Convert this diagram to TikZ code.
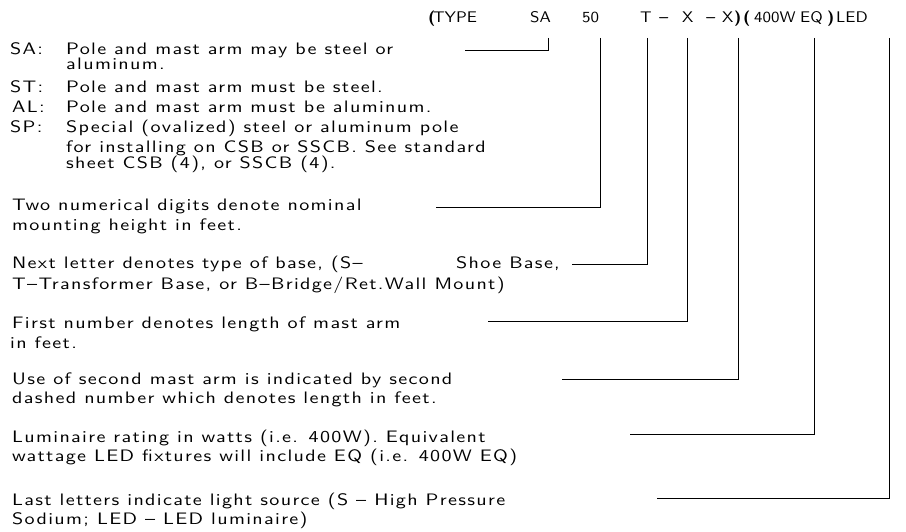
\documentclass[tikz,border=0pt]{standalone}
\usepackage{fontspec}
\usepackage{tikz}
\usetikzlibrary{positioning}
\newfontfamily\cadfont{lmsans10-regular.otf}[FakeStretch=1.21,LetterSpace=8]
\newfontfamily\codefont{lmsans10-regular.otf}[BoldFont=lmsans10-bold.otf,FakeStretch=1.1]

\tikzset{
	desc/.style={anchor=base west, inner sep=0pt, font=\cadfont\fontsize{16.6}{19}\selectfont},
	code/.style={anchor=base west, inner sep=0pt, font=\codefont\fontsize{15.4}{18}\selectfont},
	leader/.style={line width=0.8pt}
}

\begin{document}
\begin{tikzpicture}[x=1pt,y=-1pt]
		\useasboundingbox (0,0) rectangle (906,532);
		% designation
		\node[code] (lpa) at (428,23) {\bfseries(};
		\node[code] (type) at (433,23) {TYPE};
		\node[code] (csa) at (530,23) {SA};
		\node[code] (cht) at (582,23) {50};
		\node[code] (cbase) at (640,23) {T};
		\node[code] (dsha) at (659,23) {\bfseries\textendash};
		\node[code] (carm) at (682,23) {X};
		\node[code] (dshb) at (706,23) {\bfseries\textendash};
		\node[code] (carmb) at (722,23) {X};
		\node[code] (rpa) at (734,23) {\bfseries)};
		\node[code] (lpb) at (743,23) {\bfseries(};
		\node[code] (cwatt) at (754,23) {400W};
		\node[code] (ceq) at (800,23) {EQ};
		\node[code] (rpb) at (827,23) {\bfseries)};
		\node[code] (csrc) at (836,23) {LED};
		% pole material
		\node[desc] (sa) at (10,55) {SA:};
		\node[desc] (sa1) at (66,55) {Pole and mast arm may be steel or};
		\node[desc] (sa2) at (66,70) {aluminum.};
		\node[desc] (st) at (10,93) {ST:};
		\node[desc] (st1) at (66,93) {Pole and mast arm must be steel.};
		\node[desc] (al) at (12,113) {AL:};
		\node[desc] (al1) at (66,113) {Pole and mast arm must be aluminum.};
		\node[desc] (sp) at (10,133) {SP:};
		\node[desc] (sp1) at (66,133) {Special (ovalized) steel or aluminum pole};
		\node[desc] (sp2) at (66,153) {for installing on CSB or SSCB. See standard};
		\node[desc] (sp3) at (66,169) {sheet CSB (4), or SSCB (4).};
		% height, base, arms
		\node[desc] (ht1) at (12,211) {Two numerical digits denote nominal};
		\node[desc] (ht2) at (12,230) {mounting height in feet.};
		\node[desc] (base1) at (12,269) {Next letter denotes type of base, (S\textendash};
		\node[desc] (base1b) at (456,269) {Shoe Base,};
		\node[desc] (base2) at (12,289) {T\textendash Transformer Base, or B\textendash Bridge/Ret.Wall Mount)};
		\node[desc] (arm1) at (12,328) {First number denotes length of mast arm};
		\node[desc] (arm2) at (10,348) {in feet.};
		\node[desc] (armb1) at (12,384) {Use of second mast arm is indicated by second};
		\node[desc] (armb2) at (12,403) {dashed number which denotes length in feet.};
		% luminaire
		\node[desc] (watt1) at (12,442) {Luminaire rating in watts (i.e. 400W). Equivalent};
		\node[desc] (watt2) at (12,461) {wattage LED fixtures will include EQ (i.e. 400W EQ)};
		\node[desc] (src1) at (12,505) {Last letters indicate light source (S \textendash{} High Pressure};
		\node[desc] (src2) at (12,524) {Sodium; LED \textendash{} LED luminaire)};
		% leaders
		\foreach \n/\xa/\xb/\yb in {sa/548/465/50, ht/600/436/207, base/647/572/264, arm/687/488/321, armb/738/562/379, watt/814/630/434, src/889/657/498}{
			\coordinate (\n-top) at (\xa,38);
			\coordinate (\n-end) at (\xb,\yb);
			\draw[leader] (\n-top) |- (\n-end);
		}
	\end{tikzpicture}
\end{document}
